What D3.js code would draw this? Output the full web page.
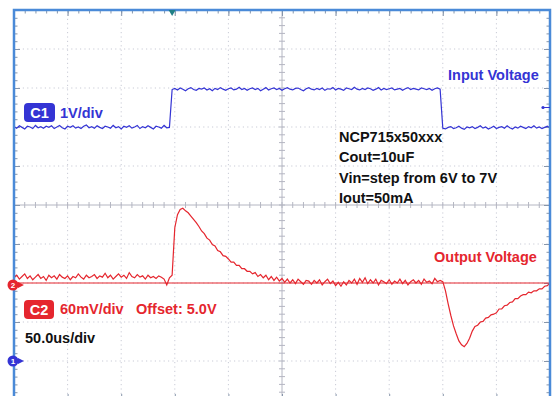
<!DOCTYPE html>
<html>
<head>
<meta charset="utf-8">
<script src="https://cdn.jsdelivr.net/npm/d3@7"></script>
<style>
  body { margin: 0; background: #fff; }
  svg { display: block; }
  text { font-family: "Liberation Sans", Arial, sans-serif; font-weight: bold; }
</style>
</head>
<body>
<svg id="chart" width="556" height="396"></svg>
<script>
// one sample every 2.5us across the 500us screen (50us/div)
const sampleStep = 2.5;

// C1 - input voltage, volts
const inputVolts = [
  6.01, 5.97, 6.03, 5.99, 5.95, 6.02, 6.00, 5.96, 6.04, 5.98,
  6.01, 5.97, 6.02, 5.99, 6.03, 5.96, 6.00, 6.04, 5.98, 5.95,
  6.02, 5.99, 6.03, 5.97, 6.00, 5.96, 6.02, 6.05, 5.98, 6.01,
  5.97, 6.03, 5.99, 5.96, 6.02, 6.00, 5.97, 6.04, 5.98, 6.01,
  5.95, 6.02, 5.99, 6.03, 5.97, 6.00, 6.04, 5.96, 6.01, 5.98,
  6.03, 5.99, 5.95, 6.02, 6.00, 5.97, 6.04, 5.98, 5.99, 6.96,
  6.99, 6.95, 7.00, 6.97, 6.93, 6.98, 7.01, 6.96, 6.94, 6.99,
  6.97, 7.00, 6.95, 6.98, 6.93, 6.99, 6.96, 7.01, 6.97, 6.94,
  6.98, 7.00, 6.95, 6.97, 7.02, 6.96, 6.99, 6.94, 6.98, 7.00,
  6.96, 6.99, 6.93, 6.97, 7.01, 6.95, 6.98, 7.00, 6.96, 6.99,
  6.94, 6.98, 7.01, 6.97, 6.95, 6.99, 7.00, 6.96, 6.93, 6.98,
  7.01, 6.97, 6.95, 6.99, 6.96, 7.00, 6.94, 6.98, 6.97, 7.01,
  6.95, 6.99, 6.97, 6.94, 7.00, 6.98, 6.96, 7.02, 6.97, 6.95,
  6.99, 6.96, 7.00, 6.98, 6.94, 6.97, 7.01, 6.95, 6.99, 6.96,
  6.98, 7.00, 6.95, 6.97, 6.99, 6.94, 6.98, 7.01, 6.96, 6.99,
  6.97, 6.95, 7.00, 6.98, 6.96, 6.99, 6.94, 6.98, 7.00, 6.97,
  5.97, 5.95, 5.99, 6.01, 5.96, 5.98, 6.02, 5.97, 5.94, 6.00,
  5.98, 6.01, 5.96, 5.99, 6.03, 5.97, 6.00, 5.95, 5.98, 6.02,
  5.96, 5.99, 6.01, 5.97, 6.03, 5.98, 5.95, 6.00, 5.97, 6.02,
  5.99, 5.96, 6.01, 5.98, 6.03, 5.97, 6.00, 5.96, 5.99, 6.02,
  5.98
];

// C2 - output voltage, mV away from the 5.0V offset
const outputMv = [
  8, 12, 6, 10, 14, 7, 11, 5, 9, 13,
  7, 10, 4, 12, 8, 11, 6, 13, 9, 7,
  11, 5, 10, 8, 14, 9, 6, 12, 8, 10,
  13, 7, 11, 9, 15, 8, 12, 6, 10, 14,
  9, 12, 7, 16, 10, 8, 13, 9, 11, 6,
  12, 8, 10, 7, 11, 9, 6, -3, 8, 12,
  85, 105, 113, 115, 111, 108, 103, 98, 93, 87,
  80, 76, 69, 66, 59, 57, 50, 48, 42, 41,
  37, 32, 32, 27, 27, 22, 22, 18, 18, 14,
  16, 10, 13, 8, 12, 5, 10, 4, 9, 3,
  7, 1, 6, 0, 5, -1, 6, 2, -2, 4,
  3, -2, 4, 0, 5, -3, 2, 6, -1, 3,
  -4, 1, -5, 2, -3, 4, 0, 6, -2, 7,
  1, 8, -1, 5, 0, 6, -3, 4, 2, -1,
  5, -2, 3, 0, 6, -1, 4, -3, 2, 5,
  0, 4, -2, 6, 1, 3, -1, 7, 2, 4,
  2, -12, -32, -50, -66, -78, -89, -95, -98, -93,
  -85, -74, -67, -65, -60, -59, -54, -53, -49, -48,
  -46, -40, -40, -35, -34, -30, -29, -24, -24, -20,
  -18, -18, -14, -15, -12, -12, -9, -9, -5, -4,
  0
];

const timeDomain = [0, 500];     // us
const voltDomain = [-1, 9];      // C1, 1V/div
const mvDomain = [-180, 420];    // C2, 60mV/div
const triggerTime = 147.5;
const triggerLevel = 6.5;
const notes = ["NCP715x50xxx", "Cout=10uF", "Vin=step from 6V to 7V", "Iout=50mA"];

const blue = "#3434d4", red = "#e5262e";

const svg = d3.select("#chart");
const plotL = 14, plotR = 550, plotT = 10, plotB = 400;

const x = d3.scaleLinear().domain(timeDomain).range([plotL, plotR]);
const yIn = d3.scaleLinear().domain(voltDomain).range([plotB, plotT]);
const yOut = d3.scaleLinear().domain(mvDomain).range([plotB, plotT]);

const majorT = d3.range(timeDomain[0], timeDomain[1] + 1, 50);
const minorT = d3.range(timeDomain[0], timeDomain[1] + 1, 10);
const majorV = d3.range(voltDomain[0], voltDomain[1] + 0.01, 1);
const minorV = d3.range(voltDomain[0], voltDomain[1] + 0.01, 0.2);
const midT = 250, midV = 4;

// dotted grid
const grid = svg.append("g").attr("stroke", "#c9cbd6").attr("stroke-dasharray", "1.2,3.2");
grid.selectAll(".gx").data(majorT.filter(t => t !== midT)).join("line")
  .attr("x1", d => x(d)).attr("x2", d => x(d)).attr("y1", plotT).attr("y2", plotB);
grid.selectAll(".gy").data(majorV.filter(v => v !== midV)).join("line")
  .attr("x1", plotL).attr("x2", plotR).attr("y1", d => yIn(d)).attr("y2", d => yIn(d));

// centre crosshair with minor ticks
const cross = svg.append("g").attr("stroke", "#b4b6c2").attr("stroke-width", 1);
cross.append("line").attr("x1", plotL).attr("x2", plotR).attr("y1", yIn(midV)).attr("y2", yIn(midV));
cross.append("line").attr("x1", x(midT)).attr("x2", x(midT)).attr("y1", plotT).attr("y2", plotB);
cross.selectAll(".cx").data(minorT).join("line")
  .attr("x1", d => x(d)).attr("x2", d => x(d))
  .attr("y1", yIn(midV) - 3).attr("y2", yIn(midV) + 3);
cross.selectAll(".cy").data(minorV).join("line")
  .attr("y1", d => yIn(d)).attr("y2", d => yIn(d))
  .attr("x1", x(midT) - 3).attr("x2", x(midT) + 3);

// border ticks via axes
const tickAxis = (axis, tx, ty, size, values) => {
  const g = svg.append("g").attr("transform", `translate(${tx},${ty})`)
    .call(axis.tickValues(values).tickSize(size).tickFormat(""));
  g.select(".domain").remove();
  g.selectAll("line").attr("stroke", "#8796ab");
};
tickAxis(d3.axisTop(x), 0, plotT, -3.5, minorT);
tickAxis(d3.axisTop(x), 0, plotT, -6, majorT);
tickAxis(d3.axisBottom(x), 0, plotB, -3.5, minorT);
tickAxis(d3.axisBottom(x), 0, plotB, -6, majorT);
tickAxis(d3.axisLeft(yIn), plotL, 0, -3.5, minorV);
tickAxis(d3.axisLeft(yIn), plotL, 0, -6, majorV);
tickAxis(d3.axisRight(yIn), plotR, 0, -3.5, minorV);
tickAxis(d3.axisRight(yIn), plotR, 0, -6, majorV);

// C2 reference line at the offset
svg.append("line").attr("x1", plotL).attr("x2", plotR)
  .attr("y1", yOut(0)).attr("y2", yOut(0))
  .attr("stroke", red).attr("stroke-width", 1);

// traces
const inLine = d3.line().x((d, i) => x(i * sampleStep)).y(d => yIn(d));
const outLine = d3.line().x((d, i) => x(i * sampleStep)).y(d => yOut(d));
svg.append("path").attr("d", inLine(inputVolts))
  .attr("fill", "none").attr("stroke", blue).attr("stroke-width", 1.2);
svg.append("path").attr("d", outLine(outputMv))
  .attr("fill", "none").attr("stroke", red).attr("stroke-width", 1.2);

// frame
svg.append("rect").attr("x", plotL).attr("y", plotT)
  .attr("width", plotR - plotL).attr("height", plotB - plotT)
  .attr("fill", "none").attr("stroke", "#4a8ad8").attr("stroke-width", 2.5);

// trigger markers
svg.append("path")
  .attr("d", `M${x(triggerTime) - 3.5},${plotT} L${x(triggerTime) + 3.5},${plotT} L${x(triggerTime)},${plotT + 6}Z`)
  .attr("fill", "#1f7f86");
svg.append("line").attr("x1", plotR - 7).attr("x2", plotR)
  .attr("y1", yIn(triggerLevel)).attr("y2", yIn(triggerLevel))
  .attr("stroke", blue).attr("stroke-width", 1);
svg.append("circle").attr("cx", plotR - 7).attr("cy", yIn(triggerLevel)).attr("r", 1.6).attr("fill", blue);

// channel ground markers
const groundMark = (cy, color, label) => {
  const g = svg.append("g");
  g.append("path").attr("d", `M${plotL + 4},${cy - 3} L${plotL + 10},${cy} L${plotL + 4},${cy + 3}Z`).attr("fill", color);
  g.append("circle").attr("cx", plotL - 1).attr("cy", cy).attr("r", 5.5).attr("fill", color);
  g.append("text").attr("x", plotL - 1).attr("y", cy + 3).attr("text-anchor", "middle")
    .attr("font-size", 8).attr("fill", "#fff").text(label);
};
groundMark(yOut(0) + 2, red, "2");
groundMark(yIn(0), blue, "1");

// channel badges and labels
const badge = (bx, by, w, color, s) => {
  svg.append("rect").attr("x", bx).attr("y", by).attr("width", w).attr("height", 19)
    .attr("rx", 4).attr("fill", color);
  svg.append("text").attr("x", bx + w / 2).attr("y", by + 15).attr("text-anchor", "middle")
    .attr("font-size", 14.5).attr("fill", "#fff").text(s);
};
const label = (tx, ty, color, s) =>
  svg.append("text").attr("x", tx).attr("y", ty).attr("font-size", 14.5).attr("fill", color).text(s);

badge(24, 103, 31, blue, "C1");
label(60, 117.5, blue, "1V/div");
label(448, 79.5, blue, "Input Voltage");

badge(24, 300, 30, red, "C2");
label(60, 314, red, "60mV/div");
label(136, 314, red, "Offset: 5.0V");
label(434, 262, red, "Output Voltage");

label(25, 343, "#111", "50.0us/div");

notes.forEach((s, i) => label(339, 142 + i * 20.4, "#111", s));
</script>
</body>
</html>
